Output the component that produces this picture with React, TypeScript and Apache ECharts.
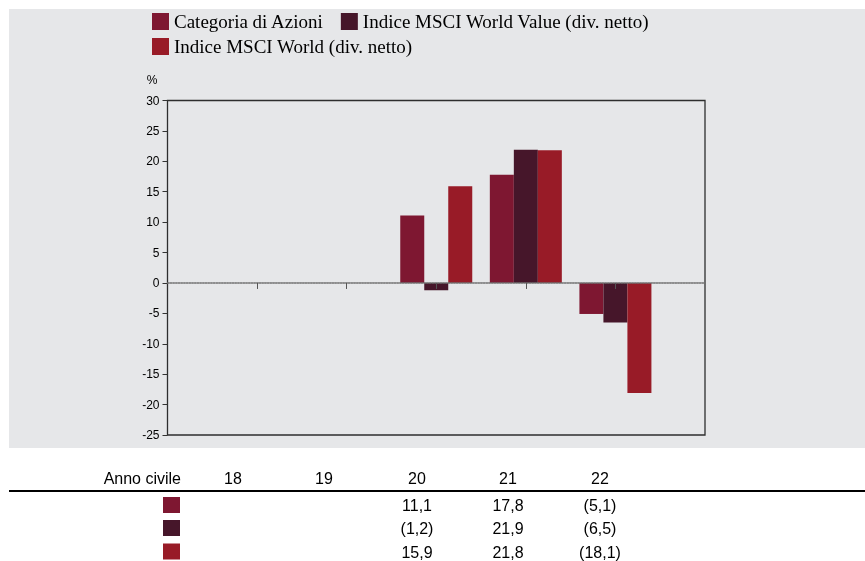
import React, { useEffect, useRef } from 'react';
import * as echarts from 'echarts';

const categories = ['', '18', '19', '20', '21', '22', ''];
const years = ['18', '19', '20', '21', '22'];
const seriesNames = [
  'Categoria di Azioni',
  'Indice MSCI World Value (div. netto)',
  'Indice MSCI World (div. netto)',
];
const categoriaAzioni: (number | null)[] = [null, null, null, 11.1, 17.8, -5.1, null];
const msciWorldValue: (number | null)[] = [null, null, null, -1.2, 21.9, -6.5, null];
const msciWorld: (number | null)[] = [null, null, null, 15.9, 21.8, -18.1, null];
const yMin = -25;
const yMax = 30;
const yStep = 5;
const tableHeader = 'Anno civile';
const yUnit = '%';

const colors = ['#7E1731', '#46162A', '#981B27'];
const allSeries = [categoriaAzioni, msciWorldValue, msciWorld];

const fmt = (v: number) => {
  const s = Math.abs(v).toFixed(1).replace('.', ',');
  return v < 0 ? `(${s})` : s;
};

const SANS = '"Liberation Sans", Arial, Helvetica, sans-serif';
const SERIF = '"Liberation Serif", "Times New Roman", Times, serif';

export default function App() {
  const ref = useRef<HTMLDivElement>(null);
  useEffect(() => {
    if (!ref.current) return;
    const chart = echarts.init(ref.current, undefined, { renderer: 'svg' });

    const colX = [233, 324, 417, 508, 600];
    const rowY = [505, 528.5, 552];
    const iconY = [497, 520, 543.5];

    const graphics: any[] = [
      {
        type: 'rect',
        z: -10,
        silent: true,
        shape: { x: 9, y: 9, width: 856, height: 439 },
        style: { fill: '#E6E7E9' },
      },
      {
        type: 'text',
        x: 152,
        y: 80,
        style: { text: yUnit, fill: '#000', font: `12px ${SANS}`, align: 'center', verticalAlign: 'middle' },
      },
      {
        type: 'text',
        x: 181,
        y: 478,
        style: { text: tableHeader, fill: '#000', font: `16px ${SANS}`, align: 'right', verticalAlign: 'middle' },
      },
      {
        type: 'rect',
        shape: { x: 9, y: 490, width: 856, height: 2 },
        style: { fill: '#000' },
      },
    ];
    years.forEach((y, j) => {
      graphics.push({
        type: 'text',
        x: colX[j],
        y: 478,
        style: { text: y, fill: '#000', font: `16px ${SANS}`, align: 'center', verticalAlign: 'middle' },
      });
    });
    allSeries.forEach((arr, s) => {
      graphics.push({
        type: 'rect',
        shape: { x: 163, y: iconY[s], width: 17, height: 16 },
        style: { fill: colors[s] },
      });
      years.forEach((_, j) => {
        const v = arr[j + 1];
        if (v === null || v === undefined) return;
        graphics.push({
          type: 'text',
          x: colX[j],
          y: rowY[s],
          style: { text: fmt(v), fill: '#000', font: `16px ${SANS}`, align: 'center', verticalAlign: 'middle' },
        });
      });
    });

    const legendCommon = {
      orient: 'horizontal',
      icon: 'rect',
      itemWidth: 17,
      itemHeight: 17,
      itemGap: 17,
      padding: 0,
      selectedMode: false,
      textStyle: { color: '#000', fontFamily: SERIF, fontSize: 19 },
    };

    chart.setOption({
      animation: false,
      color: colors,
      legend: [
        { ...legendCommon, left: 152, top: 12, data: [seriesNames[0], seriesNames[1]] },
        { ...legendCommon, left: 152, top: 37, data: [seriesNames[2]] },
      ],
      grid: {
        left: 167.5,
        top: 100.5,
        right: 160,
        bottom: 126,
        show: true,
        backgroundColor: 'transparent',
        borderColor: '#2e2e2e',
        borderWidth: 1.3,
        containLabel: false,
      },
      xAxis: {
        type: 'category',
        data: categories,
        boundaryGap: false,
        z: 5,
        axisLine: { onZero: true, lineStyle: { color: '#707070', width: 1.5, type: [1.5, 1.2] } },
        axisTick: {
          show: true,
          length: 6,
          interval: (idx: number) => idx >= 1 && idx <= 5,
          lineStyle: { color: '#555', width: 1 },
        },
        axisLabel: { show: false },
        splitLine: { show: false },
      },
      yAxis: {
        type: 'value',
        min: yMin,
        max: yMax,
        interval: yStep,
        axisLine: { show: false },
        axisTick: { show: true, length: 5, lineStyle: { color: '#333', width: 1 } },
        axisLabel: { color: '#000', fontFamily: SANS, fontSize: 12, margin: 8 },
        splitLine: { show: false },
      },
      series: allSeries.map((arr, s) => ({
        name: seriesNames[s],
        type: 'bar',
        data: arr,
        barWidth: 24,
        barGap: '0%',
        itemStyle: { color: colors[s] },
      })),
      graphic: graphics,
    });
    return () => chart.dispose();
  }, []);
  return <div ref={ref} style={{ position: 'fixed', left: 0, top: 0, width: 865, height: 561 }} />;
}
